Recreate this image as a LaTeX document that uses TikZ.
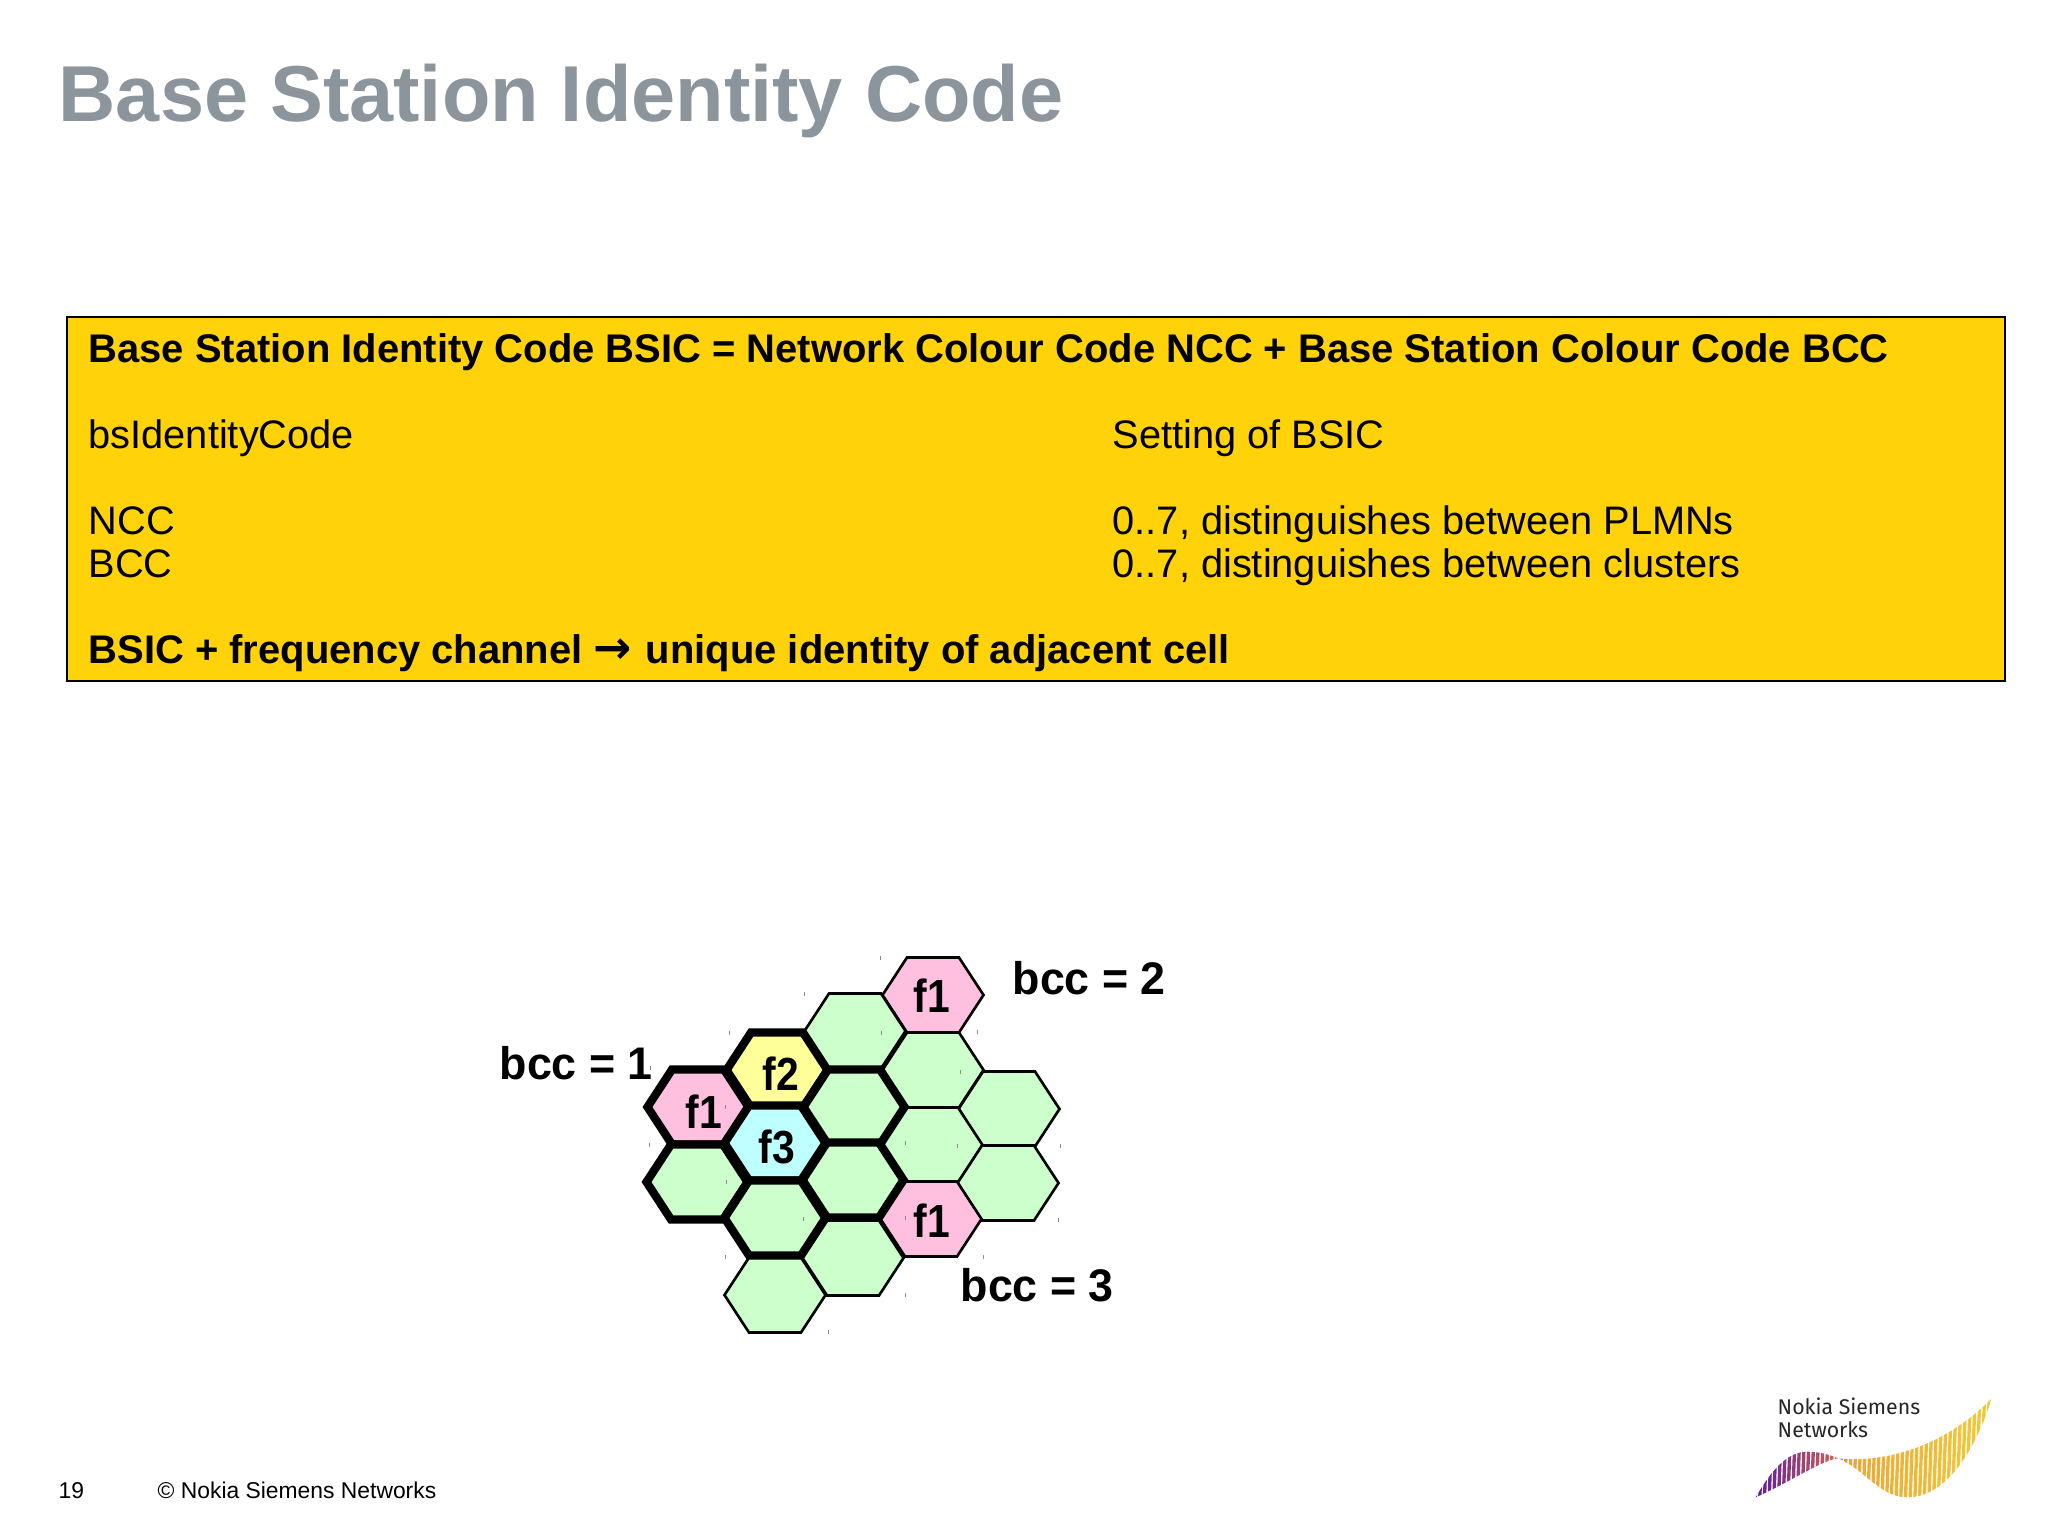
\documentclass[tikz,border=0pt]{standalone}
\usepackage{fontspec}
\setmainfont{Liberation Sans}
\newfontfamily\arrowfont{DejaVu Sans}
\newfontfamily\logofont{Fira Sans}
\definecolor{TitleGrey}{RGB}{140, 149, 156}
\definecolor{BoxYellow}{RGB}{255, 210, 10}
\definecolor{CellGreen}{RGB}{204, 255, 204}
\definecolor{CellPink}{RGB}{255, 192, 224}
\definecolor{CellLemon}{RGB}{255, 255, 153}
\definecolor{CellCyan}{RGB}{190, 255, 255}
\definecolor{LogoPurple}{RGB}{94, 26, 153}
\definecolor{LogoRust}{RGB}{200, 96, 90}
\definecolor{LogoAmber}{RGB}{232, 168, 56}
\definecolor{LogoYellow}{RGB}{242, 198, 58}
\tikzstyle{title} = [anchor=base west, inner sep=0pt, text=TitleGrey, font=\fontsize{22.55}{27}\selectfont\bfseries]
\tikzstyle{boxtext} = [anchor=base west, inner sep=0pt, font=\fontsize{11.31}{14}\selectfont]
\tikzstyle{boxbold} = [anchor=base west, inner sep=0pt, font=\fontsize{11.36}{14}\selectfont\bfseries]
\tikzstyle{bcclabel} = [anchor=base west, inner sep=0pt, xscale=0.98, font=\fontsize{13}{15}\selectfont\bfseries]
\tikzstyle{freq} = [inner sep=0pt, xscale=0.88, font=\fontsize{13.2}{15}\selectfont\bfseries]
\tikzstyle{footer} = [anchor=base west, inner sep=0pt, font=\fontsize{6.5}{8}\selectfont]
\tikzstyle{logotext} = [anchor=base west, inner sep=0pt, text=black!85, font=\fontsize{6.05}{8}\logofont\selectfont]
\tikzstyle{thincell} = [draw=black, line width=0.75pt, line join=miter]
\tikzstyle{thickcell} = [draw=black, line width=2.35pt, line join=miter]
\tikzstyle{speck} = [draw=black!45, line width=0.2pt]
\tikzset{cell/.pic={\path[pic actions] (-50.5,0) -- (-26,-37.5) -- (26,-37.5) -- (50.5,0) -- (26,37.5) -- (-26,37.5) -- cycle;}}

\begin{document}
\begin{tikzpicture}[x=0.01cm, y=-0.01cm]
\useasboundingbox (0,0) rectangle (2048,1536);

% Title
\node (title) [title] at (58,121) {Base Station Identity Code};

% Yellow box
\node (box) [draw=black, line width=0.7pt, fill=BoxYellow, minimum width=1938*0.01cm, minimum height=364*0.01cm, anchor=north west, inner sep=0pt] at (66,316) {};
\node (bsic) [boxbold] at (88,362) {Base Station Identity Code BSIC = Network Colour Code NCC + Base Station Colour Code BCC};
\node (param) [boxtext] at (88,448) {bsIdentityCode};
\node (setting) [boxtext] at (1112,448) {Setting of BSIC};
\node (ncc) [boxtext] at (88,534) {NCC};
\node (nccrange) [boxtext] at (1112,534) {0..7, distinguishes between PLMNs};
\node (bcc) [boxtext] at (88,577) {BCC};
\node (bccrange) [boxtext] at (1112,577) {0..7, distinguishes between clusters};
\node (unique) [boxbold] at (88,663) {BSIC + frequency channel {\arrowfont\fontsize{13}{14}\selectfont →}\hspace{0.8pt} unique identity of adjacent cell};

% Thin cells
\foreach \x/\y/\c in {933/995/CellPink, 855/1031/CellGreen, 933/1070/CellGreen, 1009/1109/CellGreen,
  932/1145/CellGreen, 1008/1183/CellGreen, 931/1219/CellPink, 853/1258/CellGreen, 775/1295/CellGreen}
  \pic[thincell, fill=\c] at (\x,\y) {cell};

% Thick cells
\foreach \x/\y/\c in {777/1070/CellLemon, 698/1107/CellPink, 775/1143/CellCyan, 697/1182/CellGreen,
  854/1107/CellGreen, 853/1180/CellGreen, 775/1218/CellGreen}
  \pic[thickcell, fill=\c] at (\x,\y) {cell};

% Cell labels
\node (ftop) [freq] at (932,996) {f1};
\node (fleft) [freq] at (704,1112) {f1};
\node (ftwo) [freq] at (781,1074) {f2};
\node (fthree) [freq] at (777,1147) {f3};
\node (fbottom) [freq] at (932,1221) {f1};

% Specks around the cells
\foreach \x/\y in {880/958, 804/994, 729/1033, 881/1033, 977/1032, 650/1068, 960/1072, 725/1107,
  649/1145, 905/1143, 957/1146, 1060/1146, 726/1182, 803/1219, 905/1218, 1058/1220, 725/1257,
  983/1257, 905/1295, 828/1332}
  \draw [speck] (\x,\y-2) -- (\x,\y+2);

% bcc labels
\node (bccone) [bcclabel] at (499,1079) {bcc = 1};
\node (bcctwo) [bcclabel] at (1012,994) {bcc = 2};
\node (bccthree) [bcclabel] at (960,1301) {bcc = 3};

% Footer
\node (page) [footer] at (58,1498) {19};
\node (copy) [footer] at (157,1498) {© Nokia Siemens Networks};

% Logo
\node (logoa) [logotext] at (1777,1414) {Nokia Siemens};
\node (logob) [logotext] at (1777,1437) {Networks};
\begin{scope}
\clip (1755.7,1497.3) .. controls (1775,1464) and (1790,1451.7) .. (1808,1451.7)
  .. controls (1820,1451.7) and (1830,1455) .. (1838.3,1458.3)
  .. controls (1870,1462) and (1935,1456) .. (1991.7,1398.3)
  .. controls (1975,1452) and (1945,1498) .. (1906.7,1497.3)
  .. controls (1880,1497) and (1865,1470) .. (1838.3,1458.3)
  .. controls (1822,1460) and (1790,1482) .. (1755.7,1497.3) -- cycle;
\foreach \i in {0,...,50} {
  \pgfmathtruncatemacro{\m}{min(100,\i*6)}
  \pgfmathtruncatemacro{\n}{max(0,min(100,(\i-16)*25))}
  \pgfmathtruncatemacro{\o}{max(0,min(100,(\i-20)*4))}
  \ifnum\i<16 \colorlet{stripe}{LogoRust!\m!LogoPurple}
  \else\ifnum\i<21 \colorlet{stripe}{LogoAmber!\n!LogoRust}
  \else \colorlet{stripe}{LogoYellow!\o!LogoAmber}\fi\fi
  \draw [stripe, line width=0.95pt] (1755+4.7*\i,1500) -- (1759+4.7*\i,1395);
}
\end{scope}

\end{tikzpicture}
\end{document}
